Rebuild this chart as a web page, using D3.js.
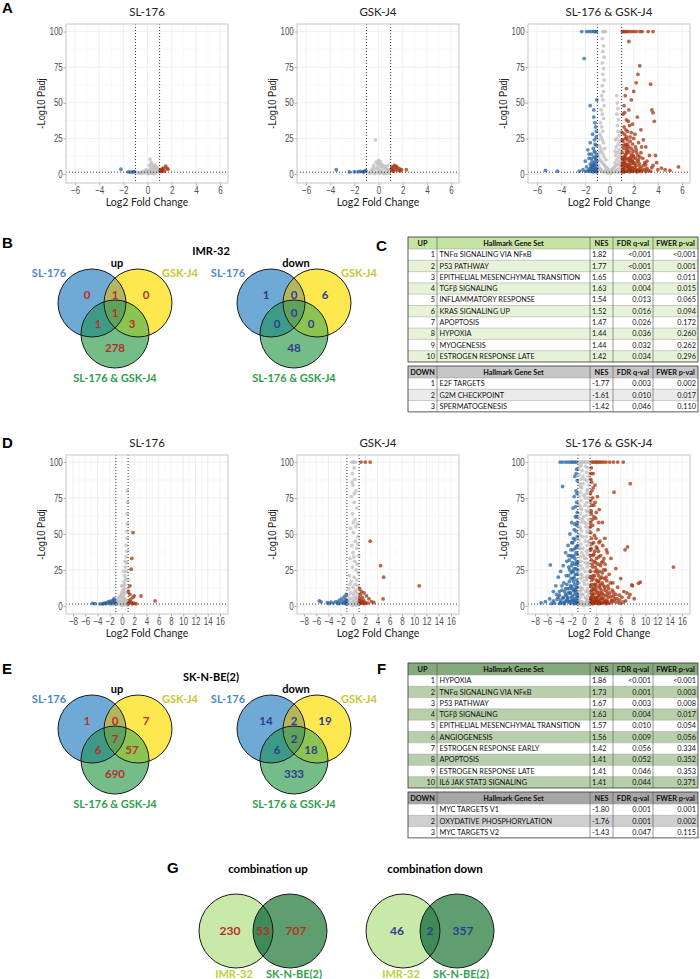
<!DOCTYPE html>
<html>
<head>
<meta charset="utf-8">
<script src="https://cdn.jsdelivr.net/npm/d3@7"></script>
<style>
  body { margin: 0; background: #fff; }
  svg { display: block; }
  .tick text { font-family: "Liberation Sans", Arial, sans-serif; fill: #4d4d4d; }
</style>
</head>
<body>
<svg id="fig" width="700" height="979"></svg>
<script>
// ---------- data ----------
const plotTitles = ['SL-176', 'GSK-J4', 'SL-176 & GSK-J4'];
const imrXTicks = [-6, -4, -2, 0, 2, 4, 6];
const sknXTicks = [-8, -6, -4, -2, 0, 2, 4, 6, 8, 10, 12, 14, 16];
const yTicks = [0, 25, 50, 75, 100];

// [log2 fold change, -log10 padj]
const imrSL = [
  [0.0,0.4],[0.1,1.1],[0.2,2.0],[0.3,3.1],[0.25,4.6],[0.15,6.2],[0.3,8.1],[0.2,10.5],[0.4,2.6],[0.5,1.4],[0.6,3.6],[0.7,2.1],
  [0.8,4.0],[0.9,2.4],[-0.2,1.0],[-0.3,2.1],[-0.5,1.5],[-0.1,3.0],[0.45,5.6],[0.6,6.4],[0.35,7.0],[0.05,2.3],[-0.4,0.7],
  [-0.7,1.0],[-0.9,1.2],[0.55,4.3],[0.75,5.1],[0.85,1.6],[0.95,3.3],[0.1,0.3],[0.3,0.5],[0.5,0.2],[-0.05,1.8],[0.65,0.8],
  [0.4,1.2],[-0.6,0.4],
  [-2.2,3.4],[-1.2,1.5],[-1.4,1.4],[-1.6,1.5],[-1.1,1.7],
  [1.05,2.1],[1.1,3.0],[1.2,2.5],[1.3,4.2],[1.5,5.6],[1.6,3.9],[1.7,3.4],[1.4,2.0],[1.15,1.8],[1.0,2.8],[1.25,3.4]
];
const imrGSK = [
  [-0.25,24.0],[0.0,9.5],[-0.2,8.3],[0.1,7.2],[0.3,6.5],[-0.4,6.0],[0.5,5.5],[0.2,5.0],[-0.1,4.6],[0.6,4.2],[0.4,3.8],
  [-0.3,3.5],[0.8,3.2],[0.0,3.0],[-0.6,2.8],[0.7,2.5],[0.25,2.2],[-0.5,1.9],[0.15,1.6],[0.55,1.3],[-0.15,1.1],[0.35,0.8],
  [-0.7,0.6],[0.9,0.9],[0.05,0.4],[0.45,0.3],[-0.35,0.3],[0.65,0.5],[-0.05,6.8],[0.15,8.6],[-0.45,4.2],[0.85,1.8],
  [-0.85,1.1],[0.75,6.1],
  [-3.5,3.0],[-2.4,1.5],[-2.0,1.6],[-1.7,1.6],[-1.5,1.8],[-1.3,1.7],[-1.15,2.0],[-1.05,2.4],[-1.25,1.5],
  [1.05,3.5],[1.1,5.0],[1.2,4.2],[1.3,6.0],[1.4,3.2],[1.5,4.8],[1.6,2.6],[1.7,3.9],[1.8,2.2],[1.9,3.0],[2.3,3.0],
  [1.15,2.4],[1.25,2.0],[1.45,5.6]
];
const imrCombo = [
  [-0.55,100],[-0.45,100],[-0.35,100],[-0.6,95],[-0.5,90],[-0.55,86],[-0.45,82],[-0.6,78],[-0.5,74],[-0.55,70],[-0.45,66],
  [-0.6,62],[-0.5,58],[-0.65,55],[-0.55,52],[-0.45,48],[-0.7,45],[-0.6,42],[-0.5,39],[-0.75,36],[-0.65,33],[-0.55,30],
  [-0.8,28],[-0.7,26],[-0.6,24],[-0.5,22],[-0.85,20],[-0.75,18],[-0.65,16],[-0.55,14],[-0.45,12],[-0.9,12],[-0.8,10],
  [-0.7,9],[-0.6,8],[-0.5,7],[-0.4,6],[-0.3,5],[-0.2,4],[-0.1,3],[0.0,2],[-0.9,6],[-0.8,4],[-0.7,3],[-0.6,2],[-0.5,1.5],
  [-0.35,2.5],[-0.25,1.2],[-0.15,0.8],[-0.95,3],[-0.85,15],[-0.95,24],[-0.4,18],[-0.3,10],
  [0.6,55],[0.65,50],[0.7,46],[0.6,42],[0.75,38],[0.65,34],[0.7,30],[0.8,27],[0.6,25],[0.85,23],[0.7,21],[0.55,19],
  [0.8,17],[0.65,15],[0.9,14],[0.5,13],[0.75,12],[0.6,10],[0.85,9],[0.45,8],[0.7,7],[0.55,6],[0.9,6],[0.4,5],[0.3,4],
  [0.2,3],[0.1,2],[0.8,4],[0.6,3],[0.5,2],[0.35,1.5],[0.7,1.2],[0.9,2],[0.95,20],[0.95,30],[0.5,24],[0.45,16],[0.2,1],[0.1,0.5],
  [-1.1,100],[-1.2,100],[-1.3,100],[-1.5,100],[-1.7,100],[-1.9,100],[-2.3,100],[-2.1,81],[-1.6,48],[-1.3,40],[-1.2,36],
  [-1.15,33],[-1.4,28],[-1.1,26],[-1.25,24],[-1.6,22],[-1.1,20],[-1.35,18],[-1.8,17],[-1.2,15],[-1.5,14],[-1.05,13],
  [-1.3,12],[-1.7,11],[-1.15,10],[-1.45,9],[-2.0,9],[-1.25,8],[-1.6,7],[-1.1,6.5],[-1.35,6],[-1.9,5],[-1.2,5],[-1.5,4.5],
  [-1.05,4],[-1.3,3.5],[-1.7,3],[-2.2,3],[-1.15,2.8],[-1.45,2.5],[-1.25,2],[-1.6,1.8],[-1.05,1.6],[-2.5,2],[-4.3,2],
  [-5.3,2.5],[-1.35,1.5],
  [-1.1,1.8],[-1.2,3.2],[-1.3,7],[-1.4,5.5],[-1.15,11.5],[-1.25,16],[-1.5,11],[-1.05,9],[-1.2,21],[-1.4,3.8],[-1.6,4.2],
  [-1.8,2.2],[-1.1,30],[-1.3,45],[-1.05,52],[-1.5,6.2],[-2.0,1.9],[-1.7,14],
  [1.0,100],[1.1,100],[1.2,100],[1.3,100],[1.45,100],[1.6,100],[1.8,100],[2.0,100],[2.2,100],[2.5,100],[2.7,100],[3.2,100],
  [3.6,100],[1.6,93],[2.5,76],[2.35,70],[2.2,64],[1.4,60],[1.3,55],[2.0,58],[1.8,52],[3.4,63],[1.2,48],[1.6,45],[3.5,45],
  [3.6,43],[3.7,37],[1.1,42],[1.4,38],[2.3,40],[1.9,35],[1.2,33],[2.6,31],[1.5,30],[1.05,29],[2.1,28],[1.7,26],[1.3,25],
  [2.8,24],[1.1,23],[2.4,22],[1.9,21],[1.4,20],[3.0,19],[1.2,18],[2.2,17],[1.6,16],[1.05,15],[2.6,15],[1.8,14],[1.3,13],
  [3.3,13],[2.0,12],[1.5,11],[1.1,10],[2.4,10],[3.8,13],[1.7,9],[1.25,8],[2.9,8],[2.1,7],[1.5,6.5],[1.05,6],[3.6,6],
  [2.5,5.5],[1.8,5],[1.3,4.5],[3.1,4],[2.2,3.5],[1.6,3],[1.1,2.8],[2.7,2.5],[4.0,3],[1.9,2.2],[1.4,2],[3.4,2],[4.6,3],
  [5.0,2.5],[5.7,5],[1.2,1.6],[2.3,1.6],[1.0,1.8],[1.0,4],[1.0,8],[1.0,12],[1.0,17],[1.15,3.5],[1.35,7],[1.55,9.5],
  [1.75,12],[1.95,16],[2.15,19],[1.45,24],[1.65,34],[1.25,28],[1.85,7.5],[2.05,4.5],[2.35,13],[2.75,11],[3.0,6.5],[4.3,4.2],
  [1.05,1.5],[1.1,2.2],[1.15,5],[1.2,7],[1.25,9.5],[1.3,11],[1.35,14],[1.4,16],[1.45,18],[1.5,21],[1.55,3.8],[1.6,5.5],
  [1.65,7],[1.7,11],[1.75,2.6],[1.8,18],[1.85,10],[1.9,4],[1.95,13],[2.0,8],[2.1,2.5],[2.15,11],[2.2,6],[2.25,15],[2.3,9],
  [2.4,3],[2.45,7.5],[2.5,12],[2.6,4.2],[2.65,19],[2.8,6],[2.9,3.2],[3.1,9],[3.2,2.5],[3.5,4.5],[3.9,8],[1.1,7.5],[1.2,12],
  [1.3,21],[1.4,26],[1.5,15],[1.6,19],[1.7,23],[1.8,29],[1.9,9],[2.0,25],[1.15,20],[1.35,31],[1.55,37],[1.25,43],[1.7,3.8],
  [1.3,1.8],[1.9,1.8],[2.6,1.8],[3.0,1.7],[1.45,5.2],[1.65,1.6],[2.2,1.9],[2.45,2.4],[1.05,11],[1.05,24]
];
const sknSL = [
  [0.85,80],[0.9,72],[0.8,64],[0.85,57],[0.75,52],[0.8,47],[0.7,42],[0.8,38],[0.65,34],[0.75,30],[0.55,27],[0.7,24],
  [0.45,21],[0.6,19],[0.35,17],[0.5,15],[0.2,14],[0.4,12],[0.1,11],[0.3,10],[-0.1,9],[0.15,8],[-0.3,7],[0.25,6.5],
  [-0.5,6],[0.05,5.5],[0.45,5],[-0.7,4.5],[-0.2,4],[0.6,4],[0.3,3.5],[-0.9,3],[-0.4,3],[0.8,3],[0.0,2.5],[0.5,2.2],
  [-0.6,2],[0.2,1.8],[-0.3,1.5],[0.7,1.4],[0.1,1.0],[-0.8,1.2],[0.4,0.8],[-0.1,0.5],[0.9,0.6],[0.6,9],[0.5,31],[0.95,18],
  [0.95,12],[-0.05,14],[0.3,24],
  [-4.8,1.8],[-4.4,1.6],[-3.6,1.5],[-3.2,1.4],[-2.8,2.0],[-2.5,2.2],[-2.2,3.0],[-2.0,2.6],[-1.8,3.5],[-1.6,2.5],[-1.4,4.0],
  [-1.2,3.0],[-1.1,2.0],[-2.6,1.6],[-1.5,1.7],[-3.0,1.8],[-1.3,5.0],[-1.9,1.5],
  [1.8,51],[1.6,33],[1.5,25.5],[1.3,14],[1.3,8],[2.0,7],[3.1,6.9],[1.8,6],[1.2,3],[1.5,2.5],[1.9,2.0],[1.1,1.8],[2.3,1.6],
  [5.4,3.5],[1.4,4.5],[1.05,10],[1.7,1.5]
];
const sknGSK = [
  [0.1,100],[-0.2,100],[0.4,100],[0.2,96],[-0.1,92],[0.3,88],[0.0,84],[0.5,80],[-0.3,76],[0.2,72],[0.6,68],[-0.1,64],
  [0.35,60],[0.7,57],[-0.4,54],[0.1,51],[0.8,48],[0.4,45],[-0.2,42],[0.6,40],[0.0,37],[0.9,35],[-0.5,33],[0.3,31],
  [0.7,29],[-0.1,27],[0.5,25],[0.85,23],[-0.6,21],[0.2,20],[0.6,18],[-0.3,17],[0.4,15],[0.8,14],[0.0,13],[-0.7,12],
  [0.5,11],[0.3,10],[-0.4,9],[0.7,8.5],[0.1,8],[-0.8,7],[0.9,6.5],[0.4,6],[-0.2,5.5],[0.6,5],[-0.6,4.5],[0.2,4],
  [0.8,3.5],[-0.9,3],[0.0,3],[0.5,2.5],[-0.4,2],[0.7,1.8],[0.3,1.5],[-0.7,1.2],[0.1,1],[0.9,1.2],[-0.1,0.5],[0.55,0.6],
  [-0.5,15],[0.15,34],[0.45,55],[0.25,78],[-0.15,86],[0.05,58],[0.75,43],
  [1.3,100],[2.0,100],[2.8,100],[2.8,45],[4.5,28],[5.0,20],[10.8,14],[4.9,4.9],[1.1,12],[1.4,10],[1.2,8],[1.8,9],[1.5,6],
  [2.2,7],[1.1,5],[2.6,5],[1.7,4],[1.3,3.5],[3.0,3],[2.0,2.5],[1.2,2],[2.4,2],[1.5,1.8],[1.0,1.6],[3.4,2.4],[1.9,1.6],
  [1.05,3],[1.6,2.8],
  [-5.5,3.5],[-5.2,2.8],[-4.2,2.3],[-3.6,2.6],[-3.2,2.0],[-2.8,3.0],[-2.5,2.4],[-2.2,4.0],[-2.0,2.2],[-1.8,5.0],[-1.6,3.0],
  [-1.4,6.5],[-1.3,2.5],[-1.2,4.5],[-1.1,8.0],[-1.05,3.5],[-1.5,1.8],[-2.4,1.6],[-3.9,1.7],[-1.15,1.6]
];
const sknCombo = [
  [-0.7,100],[-0.4,100],[-0.1,100],[0.2,100],[0.5,100],[0.8,100],[-0.6,97],[0.6,96],[-0.3,94],[0.4,93],[-0.8,91],[0.7,90],
  [-0.5,88],[0.5,87],[-0.7,85],[0.8,84],[-0.4,82],[0.6,81],[-0.6,79],[0.4,78],[-0.8,76],[0.7,75],[-0.5,73],[0.5,72],
  [-0.7,70],[0.8,69],[-0.4,67],[0.6,66],[-0.6,64],[0.4,63],[-0.8,61],[0.7,60],[-0.5,58],[0.5,57],[-0.7,55],[0.8,54],
  [-0.4,52],[0.6,51],[-0.6,49],[0.4,48],[-0.8,46],[0.7,45],[-0.5,43],[0.5,42],[-0.7,40],[0.8,39],[-0.4,37],[0.6,36],
  [-0.6,34],[0.4,33],[-0.8,31],[0.7,30],[-0.5,28],[0.5,27],[-0.7,25],[0.8,24],[-0.4,22],[0.6,21],[-0.6,19],[0.4,18],
  [-0.8,16],[0.7,15],[-0.5,13],[0.5,12],[-0.7,10],[0.8,9],[-0.4,8],[0.6,7],[-0.6,6],[0.4,5],[-0.8,4],[0.7,3.5],[-0.3,3],
  [0.3,2.5],[-0.9,2],[0.9,2],[-0.2,1.5],[0.2,1.2],[-0.5,1],[0.6,0.8],[0.0,0.5],[-0.9,95],[0.9,92],[-0.9,70],[0.9,65],
  [-0.9,50],[0.9,44],[-0.9,28],[0.9,20],[-0.3,60],[0.3,55],[-0.2,40],[0.2,30],[-0.3,20],[0.3,10],[-0.2,85],[0.2,75],
  [-0.5,98],[0.3,97],[-0.2,90],[0.1,88],[-0.6,83],[0.5,80],[-0.1,77],[0.2,70],[-0.6,68],[0.4,66],[-0.1,62],[0.1,58],
  [-0.6,54],[0.5,52],[-0.2,48],[0.2,45],[-0.6,40],[0.4,38],[-0.1,35],[0.1,33],[-0.5,31],[0.6,29],[-0.2,26],[0.2,24],
  [-0.6,22],[0.5,19],[-0.1,17],[0.1,15],[-0.5,11],[0.6,10],[-0.2,8],[0.2,6],[-0.6,3],[0.5,4],[-0.3,12],[0.35,20],
  [-1.0,100],[-1.3,100],[-1.6,100],[-1.9,100],[-2.2,100],[-2.6,100],[-3.0,100],[-3.5,100],[-3.9,100],[-1.2,95],[-1.5,90],
  [-1.1,87],[-3.5,83],[-1.3,80],[-1.6,76],[-1.2,72],[-1.8,68],[-1.1,65],[-1.4,62],[-2.0,58],[-1.2,56],[-1.6,53],[-2.3,50],
  [-1.1,48],[-1.5,46],[-2.0,44],[-2.6,42],[-1.3,41],[-1.8,39],[-3.0,37],[-1.1,36],[-2.2,35],[-1.5,33],[-2.8,31],[-1.9,30],
  [-1.2,29],[-5.5,28.5],[-3.4,28],[-2.5,27],[-1.6,26],[-1.1,25],[-3.8,24],[-2.1,23],[-1.4,22],[-2.9,21],[-4.2,20],
  [-1.8,19],[-1.2,18],[-2.4,17],[-3.3,16],[-1.5,15],[-4.6,14],[-2.0,13.5],[-1.1,13],[-2.7,12],[-3.6,11],[-1.7,10.5],
  [-5.0,10],[-1.3,9.5],[-2.3,9],[-3.0,8],[-4.0,7.5],[-1.9,7],[-1.1,6.5],[-2.6,6],[-3.4,5.5],[-5.6,5],[-1.5,5],[-4.4,4.5],
  [-2.1,4],[-1.2,3.5],[-3.0,3.2],[-6.3,3],[-2.5,2.8],[-1.7,2.5],[-3.8,2.3],[-4.8,2],[-1.3,2],[-2.2,1.8],[-1.0,1.6],
  [-7.0,2.2],[-5.3,1.7],[-3.2,1.6],[-1.6,1.5],[-1.05,8],[-1.05,16],[-1.05,30],[-1.05,42],[-1.4,11],[-1.6,20],[-1.9,24],
  [-2.2,14],[-2.4,32],[-1.3,37],
  [-1.1,2.5],[-1.2,5.5],[-1.3,13],[-1.4,3],[-1.5,8],[-1.6,11],[-1.7,17],[-1.8,4],[-1.9,12],[-2.0,6],[-2.1,19],[-2.2,9],
  [-2.3,3],[-2.4,12],[-2.5,21],[-2.6,9],[-2.7,5],[-2.8,15],[-2.9,7],[-3.0,12],[-3.2,10],[-3.4,6],[-3.6,14],[-3.8,4],
  [-4.0,10],[-4.2,6],[-4.5,8],[-1.15,22],[-1.25,31],[-1.35,26],[-1.45,40],[-1.55,29],[-1.65,35],[-1.75,24],[-1.85,44],
  [-1.95,34],[-2.05,28],[-2.15,39],[-2.35,25],[-2.55,35],[-1.1,58],[-1.2,62],[-1.3,52],[-1.4,69],[-1.5,57],[-1.15,78],
  [-1.3,92],[-1.7,47],[-2.8,4],[-3.3,2.4],[-5.0,3.5],[-4.0,1.8],
  [1.0,100],[1.3,100],[1.6,100],[1.9,100],[2.2,100],[2.5,100],[2.8,100],[3.2,100],[3.6,100],[4.2,100],[4.8,100],[5.5,100],
  [6.4,100],[7.55,85],[4.9,79],[1.2,96],[1.5,92],[1.1,88],[1.8,84],[1.3,80],[2.2,76],[1.1,73],[1.6,70],[2.5,67],[1.2,64],
  [1.9,61],[3.0,58],[1.4,56],[2.3,53],[1.1,51],[1.7,49],[3.4,47],[2.6,45],[1.3,43],[2.0,41],[6.7,39],[7.1,41],[1.1,39],
  [3.8,37],[1.6,36],[2.4,34],[4.4,33],[1.2,32],[3.1,31],[1.9,30],[2.7,28],[1.4,27],[14.6,27],[5.2,26],[3.5,25],[1.1,24],
  [2.2,23],[4.1,22],[1.7,21],[2.9,20],[6.0,19],[1.3,18],[3.7,17.5],[2.4,17],[9.2,16.6],[4.7,16],[1.9,15],[7.8,14.6],
  [3.2,14],[1.1,13.5],[5.5,13],[2.6,12.5],[4.0,12],[1.5,11.5],[8.9,15.7],[7.9,14],[3.4,11],[2.1,10.5],[6.5,10],[1.2,10],
  [4.8,9.5],[7.0,9],[2.9,9],[1.7,8.5],[7.5,8],[3.8,8],[5.8,7.5],[1.3,7.5],[2.4,7],[4.4,6.5],[1.9,6],[6.2,6],[3.1,5.5],
  [1.1,5],[5.0,5],[2.7,4.5],[3.7,4],[1.5,4],[4.6,3.5],[2.2,3.2],[6.8,3.5],[1.2,3],[3.3,2.8],[5.5,2.5],[1.8,2.3],[2.8,2],
  [4.0,2],[1.0,1.8],[6.0,1.8],[2.4,1.6],[3.6,1.5],[1.4,1.5],[1.05,20],[1.05,35],[1.05,55],[1.25,15],[1.45,35],[1.35,60],
  [1.6,13],[1.8,24],[2.0,18],[2.1,6],[2.3,29],[2.5,9],[2.7,15],[3.0,23],[3.3,19],[1.55,2.8],[1.75,4.8],[2.05,1.9],
  [2.55,3],[8.2,5],[7.3,6],
  [1.1,2.5],[1.2,5.5],[1.3,11],[1.4,8],[1.5,19],[1.6,6],[1.7,15],[1.8,11],[1.9,3.5],[2.0,13],[2.1,25],[2.2,9],[2.3,4.5],
  [2.4,21],[2.5,14],[2.6,7],[2.7,35],[2.8,11],[2.9,5.5],[3.0,16],[3.1,8],[3.2,25],[3.3,4],[3.4,13],[3.5,7],[3.6,20],
  [3.7,10],[3.8,3],[3.9,14],[4.0,6],[4.2,9],[4.3,16],[4.5,4],[4.6,11],[4.8,7],[5.0,3],[5.2,8],[5.4,5],[1.15,40],[1.25,47],
  [1.35,29],[1.45,21],[1.55,44],[1.65,31],[1.75,38],[1.85,27],[1.95,47],[2.05,33],[2.15,40],[2.25,17],[2.35,38],[2.45,44],
  [2.55,24],[2.65,19],[2.85,30],[3.05,42],[3.25,33],[3.45,29],[3.65,39],[1.1,58],[1.2,66],[1.3,70],[1.4,75],[1.25,86],
  [1.15,92],[1.6,62],[1.8,72],[1.5,82],[2.0,65],[2.4,58],[1.05,78],[1.1,5],[1.3,3.2],[1.5,1.9],[1.7,2.8],[2.0,4.2],
  [2.3,2.4],[2.6,1.8],[3.0,2.2],[3.5,2.5],[4.4,2.2],[5.8,4],[6.4,2.8]
];

// venn counts: [A only, A∩B, B only, A∩B∩C, A∩C, B∩C, C only]
const vennSets = ['SL-176', 'GSK-J4', 'SL-176 & GSK-J4'];
const imrUp = [0, 1, 0, 1, 1, 3, 278];
const imrDown = [1, 0, 6, 0, 0, 0, 48];
const sknUp = [1, 0, 7, 7, 6, 57, 690];
const sknDown = [14, 2, 19, 2, 6, 18, 333];

// combination overlap: [IMR-32 only, both, SK-N-BE(2) only]
const cellLines = ['IMR-32', 'SK-N-BE(2)'];
const comboUp = [230, 53, 707];
const comboDown = [46, 2, 357];

// GSEA tables
const gseaHeader = ['Hallmark Gene Set', 'NES', 'FDR q-val', 'FWER p-val'];
const imrGseaUp = [
  ['TNFα SIGNALING VIA NFκB', '1.82', '<0.001', '<0.001'],
  ['P53 PATHWAY', '1.77', '<0.001', '0.001'],
  ['EPITHELIAL MESENCHYMAL TRANSITION', '1.65', '0.003', '0.011'],
  ['TGFβ SIGNALING', '1.63', '0.004', '0.015'],
  ['INFLAMMATORY RESPONSE', '1.54', '0.013', '0.065'],
  ['KRAS SIGNALING UP', '1.52', '0.016', '0.094'],
  ['APOPTOSIS', '1.47', '0.026', '0.172'],
  ['HYPOXIA', '1.44', '0.036', '0.260'],
  ['MYOGENESIS', '1.44', '0.032', '0.262'],
  ['ESTROGEN RESPONSE LATE', '1.42', '0.034', '0.296']
];
const imrGseaDown = [
  ['E2F TARGETS', '-1.77', '0.003', '0.002'],
  ['G2M CHECKPOINT', '-1.61', '0.010', '0.017'],
  ['SPERMATOGENESIS', '-1.42', '0.046', '0.110']
];
const sknGseaUp = [
  ['HYPOXIA', '1.86', '<0.001', '<0.001'],
  ['TNFα SIGNALING VIA NFκB', '1.73', '0.001', '0.003'],
  ['P53 PATHWAY', '1.67', '0.003', '0.008'],
  ['TGFβ SIGNALING', '1.63', '0.004', '0.017'],
  ['EPITHELIAL MESENCHYMAL TRANSITION', '1.57', '0.010', '0.054'],
  ['ANGIOGENESIS', '1.56', '0.009', '0.056'],
  ['ESTROGEN RESPONSE EARLY', '1.42', '0.056', '0.334'],
  ['APOPTOSIS', '1.41', '0.052', '0.352'],
  ['ESTROGEN RESPONSE LATE', '1.41', '0.046', '0.353'],
  ['IL6 JAK STAT3 SIGNALING', '1.41', '0.044', '0.371']
];
const sknGseaDown = [
  ['MYC TARGETS V1', '-1.80', '0.001', '0.001'],
  ['OXYDATIVE PHOSPHORYLATION', '-1.76', '0.001', '0.002'],
  ['MYC TARGETS V2', '-1.43', '0.047', '0.115']
];

// ---------- drawing ----------
const svg = d3.select('#fig');
const defs = svg.append('defs');
const calibri = 'Lato, "Open Sans", sans-serif';
const arial = '"Liberation Sans", Arial, sans-serif';

const status = d => d[0] > 1 && d[1] > 1.3 ? 'up' : (d[0] < -1 && d[1] > 1.3 ? 'down' : 'ns');
const colour = d3.scaleOrdinal().domain(['ns', 'down', 'up']).range(['#bdbdbd', '#2a66a3', '#a5340f']);
const order = {ns: 0, down: 1, up: 2};

function letter(t, x, y) {
  svg.append('text').attr('x', x).attr('y', y).text(t)
    .attr('font-family', arial).attr('font-weight', 'bold').attr('font-size', 15);
}

function volcano(left, top, pts, xDom, yDom, xTicks, title) {
  const w = 162, h = 159;
  const x = d3.scaleLinear().domain(xDom).range([left, left + w]);
  const y = d3.scaleLinear().domain(yDom).range([top + h, top]);
  const g = svg.append('g');

  const minorX = xTicks.slice(1).map((t, i) => (t + xTicks[i]) / 2);
  const minorY = yTicks.slice(1).map((t, i) => (t + yTicks[i]) / 2);

  g.selectAll('.gxm').data(minorX).join('line')
    .attr('x1', x).attr('x2', x).attr('y1', top).attr('y2', top + h)
    .attr('stroke', '#f4f4f4').attr('stroke-width', 0.6);
  g.selectAll('.gym').data(minorY).join('line')
    .attr('x1', left).attr('x2', left + w).attr('y1', y).attr('y2', y)
    .attr('stroke', '#f4f4f4').attr('stroke-width', 0.6);
  g.selectAll('.gx').data(xTicks).join('line')
    .attr('x1', x).attr('x2', x).attr('y1', top).attr('y2', top + h)
    .attr('stroke', '#ebebeb').attr('stroke-width', 0.8);
  g.selectAll('.gy').data(yTicks).join('line')
    .attr('x1', left).attr('x2', left + w).attr('y1', y).attr('y2', y)
    .attr('stroke', '#ebebeb').attr('stroke-width', 0.8);

  const sorted = pts.slice().sort((a, b) => order[status(a)] - order[status(b)]);
  g.selectAll('circle').data(sorted).join('circle')
    .attr('cx', d => x(d[0])).attr('cy', d => y(d[1])).attr('r', 1.9)
    .attr('fill', d => colour(status(d))).attr('fill-opacity', 0.75);

  // threshold lines
  [-1, 1].forEach(v => g.append('line')
    .attr('x1', x(v)).attr('x2', x(v)).attr('y1', top).attr('y2', top + h)
    .attr('stroke', '#222').attr('stroke-width', 0.9).attr('stroke-dasharray', '1,2'));
  g.append('line').attr('x1', left).attr('x2', left + w).attr('y1', y(1.3)).attr('y2', y(1.3))
    .attr('stroke', '#222').attr('stroke-width', 0.9).attr('stroke-dasharray', '1,2');

  g.append('rect').attr('x', left).attr('y', top).attr('width', w).attr('height', h)
    .attr('fill', 'none').attr('stroke', '#cfcfcf').attr('stroke-width', 1.2);

  const fmt = v => v < 0 ? '\u2212' + Math.abs(v) : String(v);
  const xa = g.append('g').attr('transform', `translate(0,${top + h})`)
    .call(d3.axisBottom(x).tickValues(xTicks).tickSize(2.5).tickPadding(1.5).tickFormat(fmt));
  const ya = g.append('g').attr('transform', `translate(${left},0)`)
    .call(d3.axisLeft(y).tickValues(yTicks).tickSize(2.5).tickPadding(1.5));
  [xa, ya].forEach(a => {
    a.select('.domain').remove();
    a.selectAll('.tick line').attr('stroke', '#b3b3b3');
    // condensed look of the original tick font
    a.selectAll('.tick text').attr('font-size', 10).attr('transform', 'scale(0.8,1)');
  });

  g.append('text').attr('x', left + w / 2).attr('y', top - 8).attr('text-anchor', 'middle')
    .attr('font-family', calibri).attr('font-size', 11.5).attr('fill', '#222').text(title);
  g.append('text').attr('x', left + w / 2).attr('y', top + h + 23).attr('text-anchor', 'middle')
    .attr('font-family', calibri).attr('font-size', 10.5).attr('fill', '#222').text('Log2 Fold Change');
  g.append('text').attr('transform', `translate(${left - 21},${top + h / 2}) rotate(-90) scale(0.85,1)`)
    .attr('text-anchor', 'middle').attr('font-family', arial).attr('font-size', 11)
    .attr('fill', '#222').text('-Log10 Padj');
}

let clipId = 0;
function clipCircle(c, r) {
  const id = 'cc' + (clipId++);
  defs.append('clipPath').attr('id', id).append('circle').attr('cx', c.x).attr('cy', c.y).attr('r', r);
  return `url(#${id})`;
}

function venn3(cx, cy, counts, title, numColour) {
  const r = 34;
  const c = [{x: cx - 23, y: cy - 10}, {x: cx + 23, y: cy - 10}, {x: cx, y: cy + 21}];
  const fills = ['#6fa9d5', '#fde850', '#74bc88'];
  const g = svg.append('g');
  c.forEach((p, i) => g.append('circle').attr('cx', p.x).attr('cy', p.y).attr('r', r).attr('fill', fills[i]));
  const pair = (a, b, col) => g.append('g').attr('clip-path', clipCircle(c[a], r))
    .append('circle').attr('cx', c[b].x).attr('cy', c[b].y).attr('r', r).attr('fill', col);
  pair(0, 1, '#b4b55c');
  pair(0, 2, '#3d9a86');
  pair(1, 2, '#8cc451');
  g.append('g').attr('clip-path', clipCircle(c[0], r))
    .append('g').attr('clip-path', clipCircle(c[1], r))
    .append('circle').attr('cx', c[2].x).attr('cy', c[2].y).attr('r', r).attr('fill', '#5fa25c');
  c.forEach(p => g.append('circle').attr('cx', p.x).attr('cy', p.y).attr('r', r)
    .attr('fill', 'none').attr('stroke', '#1a1a1a').attr('stroke-width', 1));

  const spots = [[-28, -18], [0, -18], [31, -18], [0, 0], [-17, 11], [17, 11], [0, 35]];
  g.selectAll('.n').data(counts).join('text')
    .attr('x', (d, i) => cx + spots[i][0]).attr('y', (d, i) => cy + spots[i][1] + 4)
    .attr('text-anchor', 'middle').attr('font-family', calibri).attr('font-weight', 'bold')
    .attr('font-size', 11.5).attr('fill', numColour).text(d => d);

  const lab = [[-66, -36, '#4b87c6'], [65, -36, '#c9c430'], [0, 69, '#2e9e4a']];
  lab.forEach((l, i) => g.append('text').attr('x', cx + l[0]).attr('y', cy + l[1])
    .attr('text-anchor', 'middle').attr('font-family', calibri).attr('font-weight', 'bold')
    .attr('font-size', 11).attr('fill', l[2]).text(vennSets[i]));
  g.append('text').attr('x', cx + 2).attr('y', cy - 46).attr('text-anchor', 'middle')
    .attr('font-family', calibri).attr('font-weight', 'bold').attr('font-size', 11).text(title);
}

function venn2(cx, cy, counts, title, numColour) {
  const r = 37;
  const c = [{x: cx - 27, y: cy}, {x: cx + 27, y: cy}];
  const g = svg.append('g');
  g.append('circle').attr('cx', c[0].x).attr('cy', cy).attr('r', r).attr('fill', '#c9e9a8');
  g.append('circle').attr('cx', c[1].x).attr('cy', cy).attr('r', r).attr('fill', '#5f9e6e');
  g.append('g').attr('clip-path', clipCircle(c[0], r))
    .append('circle').attr('cx', c[1].x).attr('cy', cy).attr('r', r).attr('fill', '#3f8a56');
  c.forEach(p => g.append('circle').attr('cx', p.x).attr('cy', p.y).attr('r', r)
    .attr('fill', 'none').attr('stroke', '#1a1a1a').attr('stroke-width', 1));
  const dx = [-33, 0, 33];
  g.selectAll('.n').data(counts).join('text')
    .attr('x', (d, i) => cx + dx[i]).attr('y', cy + 4).attr('text-anchor', 'middle')
    .attr('font-family', calibri).attr('font-weight', 'bold').attr('font-size', 12)
    .attr('fill', numColour).text(d => d);
  [[-29, '#b7d334'], [31, '#2ea34a']].forEach((l, i) => g.append('text')
    .attr('x', cx + l[0]).attr('y', cy + 47).attr('text-anchor', 'middle')
    .attr('font-family', calibri).attr('font-weight', 'bold').attr('font-size', 11)
    .attr('fill', l[1]).text(cellLines[i]));
  g.append('text').attr('x', cx + 5).attr('y', cy - 58).attr('text-anchor', 'middle')
    .attr('font-family', calibri).attr('font-weight', 'bold').attr('font-size', 11.5).text(title);
}

const colX = [0, 29, 182, 205, 245, 290];
function gseaTable(left, top, head, rows, headFill, altFill) {
  const rowH = 11.3, headH = 12;
  const g = svg.append('g').attr('font-family', calibri).attr('font-size', 7.3).attr('fill', '#111');
  const width = colX[colX.length - 1];
  const height = headH + rows.length * rowH;
  g.append('rect').attr('x', left).attr('y', top).attr('width', width).attr('height', headH).attr('fill', headFill);
  rows.forEach((r, i) => g.append('rect').attr('x', left).attr('y', top + headH + i * rowH)
    .attr('width', width).attr('height', rowH).attr('fill', i % 2 ? altFill : '#fff'));
  d3.range(rows.length).forEach(i => g.append('line')
    .attr('x1', left).attr('x2', left + width)
    .attr('y1', top + headH + i * rowH).attr('y2', top + headH + i * rowH)
    .attr('stroke', '#9a9a9a').attr('stroke-width', 0.5));
  colX.slice(1, -1).forEach(cxp => g.append('line').attr('x1', left + cxp).attr('x2', left + cxp)
    .attr('y1', top).attr('y2', top + height).attr('stroke', '#555').attr('stroke-width', 0.6));
  g.append('rect').attr('x', left).attr('y', top).attr('width', width).attr('height', height)
    .attr('fill', 'none').attr('stroke', '#333').attr('stroke-width', 0.8);

  const hy = top + headH / 2 + 2.6;
  [head].concat(gseaHeader).forEach((t, i) => g.append('text')
    .attr('x', left + (colX[i] + colX[i + 1]) / 2).attr('y', hy).attr('text-anchor', 'middle')
    .attr('font-weight', 'bold').text(t));
  rows.forEach((r, i) => {
    const ty = top + headH + i * rowH + rowH / 2 + 2.6;
    g.append('text').attr('x', left + colX[1] - 2).attr('y', ty).attr('text-anchor', 'end').text(i + 1);
    g.append('text').attr('x', left + colX[1] + 2.5).attr('y', ty).text(r[0]);
    g.append('text').attr('x', left + colX[2] + 2).attr('y', ty).text(r[1]);
    g.append('text').attr('x', left + colX[4] - 2).attr('y', ty).attr('text-anchor', 'end').text(r[2]);
    g.append('text').attr('x', left + colX[5] - 2).attr('y', ty).attr('text-anchor', 'end').text(r[3]);
  });
}

// panel A / D volcanoes
const imrData = [imrSL, imrGSK, imrCombo];
const sknData = [sknSL, sknGSK, sknCombo];
const lefts = [66, 297, 528];
lefts.forEach((l, i) => volcano(l, 24, imrData[i], [-6.75, 6.66], [-6.3, 105.3], imrXTicks, plotTitles[i]));
lefts.forEach((l, i) => volcano(l, 455, sknData[i], [-9.14, 17.3], [-5.6, 104.9], sknXTicks, plotTitles[i]));

// panel B / E venns
function cellTitle(t, y) {
  svg.append('text').attr('x', 211).attr('y', y).attr('text-anchor', 'middle')
    .attr('font-family', calibri).attr('font-weight', 'bold').attr('font-size', 11).text(t);
}
cellTitle('IMR-32', 255);
venn3(115, 313, imrUp, 'up', '#b72f2c');
venn3(294, 313, imrDown, 'down', '#2e3d91');
cellTitle('SK-N-BE(2)', 681);
venn3(115, 739, sknUp, 'up', '#b72f2c');
venn3(294, 739, sknDown, 'down', '#2e3d91');

// panel C / F tables
gseaTable(408, 237, 'UP', imrGseaUp, '#c5e3a3', '#e6f3d8');
gseaTable(408, 366, 'DOWN', imrGseaDown, '#c6c6c6', '#ebebeb');
gseaTable(408, 663, 'UP', sknGseaUp, '#85aa7b', '#b8cfab');
gseaTable(408, 792, 'DOWN', sknGseaDown, '#a6a6a6', '#cfcfcf');

// panel G
venn2(263, 931, comboUp, 'combination up', '#b72f2c');
venn2(430, 931, comboDown, 'combination down', '#2e3d91');

letter('A', 2, 13);
letter('B', 2, 248);
letter('C', 376, 251);
letter('D', 2, 448);
letter('E', 2, 674);
letter('F', 377, 674);
letter('G', 167, 873);
</script>
</body>
</html>
